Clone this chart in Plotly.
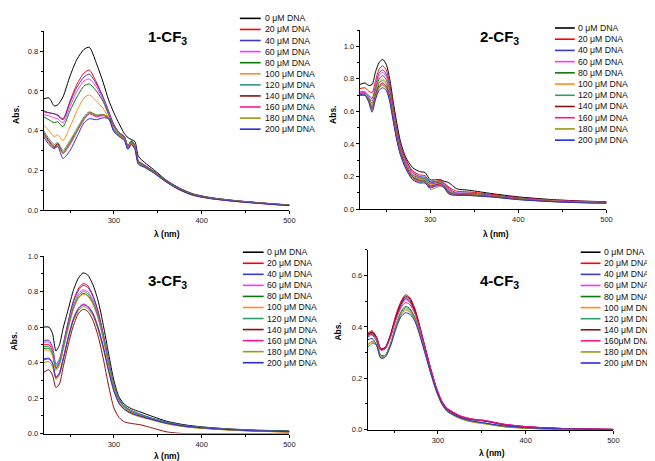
import plotly.graph_objects as go

W, H = 655, 461

# ---------------- data ----------------
conc_labels = ["0 μM DNA", "20 μM DNA", "40 μM DNA", "60 μM DNA", "80 μM DNA",
               "100 μM DNA", "120 μM DNA", "140 μM DNA", "160 μM DNA",
               "180 μM DNA", "200 μM DNA"]
conc_labels_4 = ["0 μM DNA", "20 μM DNA", "40 μM DNA", "60 μM DNA", "80 μM DNA",
                 "100 μM DNA", "120 μM DNA", "140 μM DNA", "160μM DNA",
                 "180 μM DNA", "200 μM DNA"]
panel_titles = ["1-CF<sub>3</sub>", "2-CF<sub>3</sub>", "3-CF<sub>3</sub>", "4-CF<sub>3</sub>"]

# Panel 1 (1-CF3)
wl1 = [220, 226, 232, 236, 242, 250, 258, 266, 272, 280, 288, 294, 300, 306, 312, 316,
       320, 324, 328, 335, 345, 360, 375, 390, 410, 440, 470, 500]
p1_0 = [0.56, 0.565, 0.525, 0.53, 0.57, 0.675, 0.76, 0.81, 0.82, 0.74, 0.64, 0.555, 0.49, 0.435,
        0.385, 0.365, 0.355, 0.345, 0.27, 0.24, 0.205, 0.15, 0.11, 0.082, 0.063, 0.047, 0.035, 0.025]
p1_20 = [0.495, 0.49, 0.485, 0.48, 0.46, 0.55, 0.635, 0.69, 0.705, 0.645, 0.565, 0.49, 0.43, 0.39,
         0.37, 0.32, 0.345, 0.325, 0.245, 0.225, 0.195, 0.145, 0.105, 0.078, 0.06, 0.045, 0.034, 0.024]
p1_40 = [0.50, 0.49, 0.485, 0.475, 0.455, 0.54, 0.62, 0.67, 0.685, 0.635, 0.565, 0.50, 0.43, 0.39,
         0.37, 0.325, 0.35, 0.325, 0.245, 0.225, 0.195, 0.145, 0.106, 0.079, 0.061, 0.046, 0.035, 0.025]
p1_60 = [0.48, 0.475, 0.465, 0.46, 0.44, 0.52, 0.60, 0.65, 0.66, 0.62, 0.555, 0.49, 0.425, 0.39,
         0.37, 0.325, 0.35, 0.325, 0.25, 0.228, 0.198, 0.148, 0.108, 0.08, 0.062, 0.047, 0.036, 0.026]
p1_80 = [0.47, 0.455, 0.44, 0.445, 0.42, 0.50, 0.57, 0.625, 0.635, 0.60, 0.545, 0.48, 0.42, 0.385,
         0.365, 0.32, 0.345, 0.32, 0.245, 0.225, 0.196, 0.147, 0.107, 0.08, 0.062, 0.046, 0.035, 0.025]
p1_100 = [0.43, 0.40, 0.37, 0.38, 0.35, 0.42, 0.50, 0.565, 0.58, 0.55, 0.51, 0.465, 0.41, 0.38,
          0.36, 0.315, 0.34, 0.315, 0.24, 0.22, 0.19, 0.14, 0.10, 0.074, 0.057, 0.043, 0.032, 0.022]
p1_120 = [0.40, 0.36, 0.33, 0.34, 0.30, 0.35, 0.41, 0.47, 0.495, 0.48, 0.48, 0.465, 0.405, 0.38,
          0.36, 0.315, 0.34, 0.315, 0.24, 0.22, 0.192, 0.143, 0.104, 0.077, 0.06, 0.045, 0.034, 0.024]
p1_140 = [0.39, 0.35, 0.32, 0.335, 0.29, 0.34, 0.40, 0.46, 0.49, 0.475, 0.48, 0.465, 0.40, 0.375,
          0.355, 0.31, 0.335, 0.31, 0.235, 0.218, 0.19, 0.142, 0.103, 0.076, 0.059, 0.044, 0.033, 0.023]
p1_160 = [0.385, 0.345, 0.315, 0.33, 0.285, 0.33, 0.395, 0.455, 0.485, 0.47, 0.475, 0.46, 0.40, 0.375,
          0.355, 0.31, 0.335, 0.31, 0.235, 0.218, 0.19, 0.142, 0.103, 0.076, 0.059, 0.044, 0.033, 0.023]
p1_180 = [0.38, 0.34, 0.31, 0.325, 0.285, 0.335, 0.40, 0.46, 0.49, 0.475, 0.48, 0.465, 0.40, 0.375,
          0.355, 0.31, 0.335, 0.31, 0.235, 0.218, 0.19, 0.142, 0.103, 0.076, 0.059, 0.044, 0.033, 0.023]
p1_200 = [0.37, 0.33, 0.31, 0.32, 0.26, 0.30, 0.37, 0.44, 0.46, 0.455, 0.465, 0.46, 0.395, 0.37,
          0.35, 0.305, 0.33, 0.305, 0.23, 0.215, 0.188, 0.14, 0.102, 0.075, 0.058, 0.043, 0.032, 0.022]

# Panel 2 (2-CF3)
wl2 = [220, 226, 230, 234, 238, 242, 246, 250, 254, 258, 262, 266, 272, 280, 288, 294, 300,
       306, 312, 316, 320, 324, 330, 345, 370, 400, 440, 470, 500]
p2_0 = [0.765, 0.775, 0.76, 0.765, 0.845, 0.90, 0.92, 0.89, 0.80, 0.66, 0.53, 0.42, 0.32, 0.255, 0.23,
        0.225, 0.18, 0.18, 0.18, 0.17, 0.165, 0.15, 0.125, 0.115, 0.095, 0.075, 0.058, 0.05, 0.045]
p2_20 = [0.74, 0.745, 0.725, 0.715, 0.79, 0.86, 0.88, 0.855, 0.77, 0.63, 0.50, 0.40, 0.31, 0.235, 0.21,
         0.205, 0.17, 0.17, 0.175, 0.16, 0.14, 0.125, 0.11, 0.105, 0.09, 0.07, 0.055, 0.048, 0.044]
p2_40 = [0.72, 0.72, 0.70, 0.68, 0.76, 0.835, 0.855, 0.83, 0.75, 0.61, 0.485, 0.39, 0.30, 0.225, 0.20,
         0.195, 0.165, 0.165, 0.17, 0.155, 0.135, 0.115, 0.10, 0.098, 0.085, 0.068, 0.053, 0.046, 0.042]
p2_60 = [0.715, 0.715, 0.69, 0.665, 0.745, 0.82, 0.84, 0.815, 0.735, 0.60, 0.475, 0.38, 0.29, 0.22, 0.195,
         0.19, 0.16, 0.16, 0.168, 0.15, 0.13, 0.11, 0.098, 0.095, 0.083, 0.066, 0.052, 0.045, 0.041]
p2_80 = [0.71, 0.71, 0.685, 0.65, 0.73, 0.80, 0.82, 0.795, 0.72, 0.585, 0.465, 0.37, 0.28, 0.21, 0.19,
         0.185, 0.155, 0.158, 0.165, 0.148, 0.125, 0.105, 0.095, 0.093, 0.082, 0.065, 0.05, 0.044, 0.04]
p2_100 = [0.705, 0.705, 0.68, 0.64, 0.715, 0.785, 0.80, 0.78, 0.705, 0.575, 0.455, 0.36, 0.275, 0.205, 0.185,
          0.18, 0.15, 0.155, 0.16, 0.145, 0.12, 0.10, 0.092, 0.09, 0.08, 0.063, 0.05, 0.043, 0.04]
p2_120 = [0.70, 0.70, 0.675, 0.63, 0.705, 0.775, 0.79, 0.77, 0.695, 0.565, 0.445, 0.355, 0.27, 0.20, 0.18,
          0.175, 0.145, 0.15, 0.158, 0.14, 0.115, 0.098, 0.09, 0.088, 0.078, 0.062, 0.048, 0.042, 0.039]
p2_140 = [0.70, 0.70, 0.67, 0.62, 0.695, 0.76, 0.775, 0.755, 0.685, 0.555, 0.44, 0.35, 0.265, 0.195, 0.175,
          0.17, 0.14, 0.148, 0.155, 0.138, 0.11, 0.095, 0.088, 0.086, 0.077, 0.061, 0.047, 0.041, 0.038]
p2_160 = [0.70, 0.70, 0.665, 0.61, 0.69, 0.75, 0.765, 0.745, 0.675, 0.55, 0.435, 0.345, 0.26, 0.19, 0.17,
          0.168, 0.135, 0.145, 0.152, 0.135, 0.105, 0.092, 0.087, 0.085, 0.076, 0.06, 0.046, 0.04, 0.037]
p2_180 = [0.70, 0.70, 0.665, 0.605, 0.685, 0.745, 0.76, 0.74, 0.67, 0.545, 0.43, 0.34, 0.255, 0.185, 0.165,
          0.165, 0.12, 0.13, 0.14, 0.13, 0.095, 0.088, 0.085, 0.083, 0.075, 0.059, 0.045, 0.04, 0.037]
p2_200 = [0.70, 0.70, 0.66, 0.595, 0.675, 0.73, 0.745, 0.73, 0.66, 0.54, 0.425, 0.335, 0.25, 0.18, 0.16,
          0.16, 0.13, 0.14, 0.145, 0.13, 0.10, 0.088, 0.085, 0.083, 0.074, 0.058, 0.045, 0.039, 0.036]

# Panel 3 (3-CF3)
wl3 = [220, 226, 230, 234, 238, 242, 248, 254, 260, 265, 270, 276, 282, 288, 294, 300, 306,
       312, 320, 330, 345, 360, 380, 400, 430, 460, 500]
p3_0 = [0.60, 0.60, 0.565, 0.465, 0.50, 0.59, 0.70, 0.81, 0.88, 0.905, 0.895, 0.84, 0.75, 0.61, 0.45,
        0.30, 0.205, 0.165, 0.14, 0.122, 0.095, 0.07, 0.05, 0.038, 0.027, 0.02, 0.015]
p3_20 = [0.50, 0.50, 0.47, 0.37, 0.40, 0.49, 0.63, 0.75, 0.82, 0.845, 0.835, 0.78, 0.69, 0.56, 0.41,
         0.275, 0.19, 0.15, 0.125, 0.105, 0.08, 0.06, 0.042, 0.032, 0.022, 0.015, 0.01]
p3_40 = [0.525, 0.525, 0.49, 0.39, 0.42, 0.50, 0.63, 0.745, 0.81, 0.835, 0.825, 0.775, 0.685, 0.555, 0.41,
         0.28, 0.195, 0.155, 0.13, 0.11, 0.085, 0.065, 0.046, 0.035, 0.025, 0.018, 0.012]
p3_60 = [0.515, 0.515, 0.48, 0.38, 0.41, 0.49, 0.615, 0.725, 0.79, 0.81, 0.80, 0.755, 0.67, 0.545, 0.40,
         0.275, 0.19, 0.15, 0.125, 0.105, 0.082, 0.062, 0.044, 0.034, 0.024, 0.017, 0.011]
p3_80 = [0.48, 0.48, 0.45, 0.365, 0.395, 0.475, 0.60, 0.705, 0.77, 0.79, 0.78, 0.735, 0.655, 0.535, 0.395,
         0.27, 0.188, 0.15, 0.125, 0.105, 0.082, 0.062, 0.044, 0.034, 0.024, 0.017, 0.011]
p3_100 = [0.47, 0.47, 0.44, 0.355, 0.385, 0.465, 0.59, 0.70, 0.765, 0.785, 0.775, 0.73, 0.65, 0.53, 0.39,
          0.265, 0.183, 0.145, 0.12, 0.10, 0.078, 0.058, 0.04, 0.03, 0.02, 0.014, 0.008]
p3_120 = [0.49, 0.49, 0.46, 0.37, 0.40, 0.48, 0.605, 0.715, 0.78, 0.80, 0.79, 0.745, 0.66, 0.54, 0.40,
          0.272, 0.19, 0.152, 0.127, 0.107, 0.083, 0.063, 0.045, 0.035, 0.025, 0.018, 0.012]
p3_140 = [0.345, 0.36, 0.33, 0.26, 0.28, 0.37, 0.50, 0.61, 0.68, 0.70, 0.69, 0.64, 0.55, 0.42, 0.27,
          0.145, 0.09, 0.066, 0.057, 0.05, 0.03, 0.01, 0.0, 0.0, 0.0, 0.0, 0.0]
p3_160 = [0.415, 0.42, 0.395, 0.32, 0.345, 0.42, 0.545, 0.65, 0.71, 0.73, 0.72, 0.68, 0.60, 0.49, 0.36,
          0.245, 0.172, 0.138, 0.115, 0.098, 0.077, 0.058, 0.041, 0.031, 0.022, 0.015, 0.01]
p3_180 = [0.40, 0.405, 0.38, 0.305, 0.33, 0.405, 0.53, 0.635, 0.695, 0.715, 0.705, 0.665, 0.585, 0.475, 0.35,
          0.238, 0.167, 0.134, 0.11, 0.094, 0.074, 0.055, 0.039, 0.03, 0.021, 0.014, 0.009]
p3_200 = [0.42, 0.425, 0.40, 0.315, 0.34, 0.415, 0.54, 0.645, 0.705, 0.725, 0.715, 0.675, 0.595, 0.485, 0.355,
          0.242, 0.17, 0.137, 0.115, 0.098, 0.078, 0.059, 0.042, 0.033, 0.023, 0.016, 0.011]

# Panel 4 (4-CF3)
wl4 = [220, 225, 230, 235, 240, 246, 252, 258, 263, 268, 274, 280, 286, 292, 298, 304, 310,
       318, 326, 335, 345, 352, 360, 375, 400, 430, 460, 500]
p4_0 = [0.37, 0.38, 0.36, 0.315, 0.32, 0.37, 0.44, 0.495, 0.52, 0.51, 0.465, 0.39, 0.31, 0.232,
        0.163, 0.11, 0.08, 0.063, 0.05, 0.042, 0.037, 0.035, 0.03, 0.02, 0.011, 0.006, 0.003, 0.001]
p4_20 = [0.375, 0.385, 0.362, 0.315, 0.32, 0.37, 0.445, 0.50, 0.525, 0.515, 0.47, 0.395, 0.315, 0.235,
         0.165, 0.112, 0.082, 0.064, 0.05, 0.042, 0.037, 0.035, 0.03, 0.02, 0.011, 0.006, 0.003, 0.001]
p4_40 = [0.36, 0.37, 0.355, 0.31, 0.315, 0.365, 0.435, 0.49, 0.515, 0.505, 0.46, 0.39, 0.31, 0.232,
         0.163, 0.11, 0.08, 0.062, 0.049, 0.041, 0.036, 0.034, 0.029, 0.019, 0.01, 0.005, 0.003, 0.001]
p4_60 = [0.365, 0.375, 0.355, 0.31, 0.315, 0.36, 0.43, 0.48, 0.505, 0.495, 0.455, 0.385, 0.31, 0.232,
         0.163, 0.112, 0.082, 0.064, 0.051, 0.043, 0.038, 0.036, 0.031, 0.021, 0.012, 0.006, 0.003, 0.001]
p4_80 = [0.375, 0.37, 0.345, 0.29, 0.29, 0.335, 0.405, 0.46, 0.48, 0.472, 0.435, 0.37, 0.295, 0.22,
         0.155, 0.105, 0.075, 0.058, 0.045, 0.036, 0.03, 0.027, 0.022, 0.014, 0.007, 0.003, 0.001, 0.0]
p4_100 = [0.33, 0.34, 0.33, 0.285, 0.29, 0.33, 0.40, 0.45, 0.47, 0.462, 0.428, 0.365, 0.292, 0.218,
          0.152, 0.102, 0.072, 0.055, 0.042, 0.033, 0.026, 0.023, 0.019, 0.011, 0.005, 0.002, 0.0, 0.0]
p4_120 = [0.32, 0.335, 0.33, 0.283, 0.29, 0.333, 0.402, 0.455, 0.475, 0.467, 0.432, 0.368, 0.294, 0.22,
          0.154, 0.104, 0.074, 0.056, 0.043, 0.034, 0.028, 0.025, 0.02, 0.012, 0.006, 0.002, 0.001, 0.0]
p4_140 = [0.37, 0.38, 0.358, 0.312, 0.318, 0.365, 0.435, 0.487, 0.51, 0.50, 0.46, 0.39, 0.312, 0.234,
          0.165, 0.113, 0.083, 0.065, 0.052, 0.044, 0.038, 0.036, 0.031, 0.021, 0.012, 0.006, 0.003, 0.001]
p4_160 = [0.365, 0.375, 0.356, 0.31, 0.316, 0.36, 0.425, 0.475, 0.495, 0.487, 0.45, 0.385, 0.312, 0.236,
          0.168, 0.116, 0.086, 0.068, 0.054, 0.045, 0.039, 0.037, 0.032, 0.022, 0.012, 0.006, 0.003, 0.001]
p4_180 = [0.33, 0.345, 0.33, 0.28, 0.285, 0.328, 0.395, 0.446, 0.465, 0.458, 0.425, 0.362, 0.29, 0.217,
          0.152, 0.103, 0.073, 0.056, 0.043, 0.034, 0.028, 0.025, 0.02, 0.012, 0.006, 0.002, 0.001, 0.0]
p4_200 = [0.35, 0.355, 0.33, 0.278, 0.282, 0.325, 0.39, 0.44, 0.455, 0.45, 0.42, 0.36, 0.29, 0.22,
          0.155, 0.105, 0.075, 0.058, 0.046, 0.037, 0.03, 0.027, 0.022, 0.015, 0.008, 0.004, 0.002, 0.0]

panel_wl = [wl1, wl2, wl3, wl4]
panel_series = [
    [p1_0, p1_20, p1_40, p1_60, p1_80, p1_100, p1_120, p1_140, p1_160, p1_180, p1_200],
    [p2_0, p2_20, p2_40, p2_60, p2_80, p2_100, p2_120, p2_140, p2_160, p2_180, p2_200],
    [p3_0, p3_20, p3_40, p3_60, p3_80, p3_100, p3_120, p3_140, p3_160, p3_180, p3_200],
    [p4_0, p4_20, p4_40, p4_60, p4_80, p4_100, p4_120, p4_140, p4_160, p4_180, p4_200],
]
panel_labels = [conc_labels, conc_labels, conc_labels, conc_labels_4]
y_ranges = [[0, 0.9], [0, 1.1], [0, 1.0], [0, 0.7]]
x_ticks = [300, 400, 500]

# ---------------- style ----------------
colors = ["#000000", "#FF0000", "#3B3BC4", "#FF33FF", "#0A7A0A", "#FF8C1A",
          "#2E9E72", "#8B1010", "#FF1493", "#9A9A10", "#2A2AE0"]
FONT = "Liberation Sans, Arial, sans-serif"

# pixel layout (x0, x1 of x axis; y of zero; y of top)
panel_px = [
    dict(x0=36, x1=284, ybot=202, ytop=19.8),
    dict(x0=355, x1=604, ybot=201, ytop=18.4),
    dict(x0=36, x1=284, ybot=430, ytop=249),
    dict(x0=363, x1=611, ybot=426, ytop=242.6),
]
title_px = [(161, 26), (496, 26), (161, 275), (496, 275)]
abs_px = [(8, 105), (328, 105), (7, 336), (333, 326)]
lam_px = [(160, 226), (493, 226), (160, 453), (488, 450)]
legend_px = [
    dict(lx0=234, lx1=255, tx=258, y0=6.5, dy=11.3),
    dict(lx0=552, lx1=572, tx=574, y0=16.3, dy=11.44),
    dict(lx0=237, lx1=258, tx=260, y0=245, dy=11.27),
    dict(lx0=578, lx1=598, tx=600, y0=245, dy=11.3),
]


def px(x):
    return x / W


def py(y):
    return 1 - y / H


fig = go.Figure()
layout = dict(
    width=W, height=H, margin=dict(l=0, r=0, t=0, b=0),
    paper_bgcolor="white", plot_bgcolor="white",
    showlegend=False, font=dict(family=FONT, color="#000"),
)
annotations = []
shapes = []

for i in range(4):
    n = "" if i == 0 else str(i + 1)
    xa, ya = "x" + n, "y" + n
    for j, (ys, lab) in enumerate(zip(panel_series[i], panel_labels[i])):
        fig.add_trace(go.Scatter(
            x=panel_wl[i], y=ys, name=lab, xaxis=xa, yaxis=ya, mode="lines",
            line=dict(color=colors[j], width=1, shape="spline", smoothing=0.7),
            hoverinfo="skip"))
    p = panel_px[i]
    layout["xaxis" + n] = dict(
        domain=[px(p["x0"]), px(p["x1"])], anchor=ya, range=[220, 500],
        tickvals=x_ticks, ticks="outside", ticklen=3, tickwidth=1, tickcolor="#000",
        showline=True, linecolor="#000", linewidth=1, showgrid=False, zeroline=False,
        tickfont=dict(size=7.5, color="#222"),
        minor=dict(ticks="outside", ticklen=2, tickcolor="#000", tick0=0, dtick=50),
    )
    layout["yaxis" + n] = dict(
        domain=[py(p["ybot"]), py(p["ytop"])], anchor=xa, range=y_ranges[i],
        dtick=0.2, tickformat=".1f", ticks="outside", ticklen=3, tickwidth=1, tickcolor="#000",
        showline=True, linecolor="#000", linewidth=1, showgrid=False, zeroline=False,
        tickfont=dict(size=7.5, color="#222"),
        minor=dict(ticks="outside", ticklen=2, tickcolor="#000", tick0=0, dtick=0.1),
    )
    # panel title
    tx, ty = title_px[i]
    annotations.append(dict(text="<b>" + panel_titles[i] + "</b>", x=px(tx), y=py(ty),
                            xref="paper", yref="paper", showarrow=False,
                            xanchor="center", yanchor="middle",
                            font=dict(size=15, family=FONT, color="#000")))
    ax, ay = abs_px[i]
    annotations.append(dict(text="<b>Abs.</b>", x=px(ax), y=py(ay), xref="paper", yref="paper",
                            showarrow=False, textangle=-90, xanchor="center", yanchor="middle",
                            font=dict(size=8.5, family=FONT, color="#000")))
    lx, ly = lam_px[i]
    annotations.append(dict(text="<b>λ (nm)</b>", x=px(lx), y=py(ly), xref="paper", yref="paper",
                            showarrow=False, xanchor="center", yanchor="middle",
                            font=dict(size=8.5, family=FONT, color="#000")))
    # legend (drawn manually to match compact spacing)
    lg = legend_px[i]
    for j, lab in enumerate(panel_labels[i]):
        yy = lg["y0"] + j * lg["dy"]
        shapes.append(dict(type="line", xref="paper", yref="paper",
                           x0=px(lg["lx0"]), x1=px(lg["lx1"]), y0=py(yy), y1=py(yy),
                           line=dict(color=colors[j], width=1.6)))
        annotations.append(dict(text=lab, x=px(lg["tx"]), y=py(yy), xref="paper", yref="paper",
                                showarrow=False, xanchor="left", yanchor="middle", borderpad=0,
                                font=dict(size=8.7, family=FONT, color="#111")))

layout["annotations"] = annotations
layout["shapes"] = shapes
fig.update_layout(**layout)
fig.write_html("out.html")
